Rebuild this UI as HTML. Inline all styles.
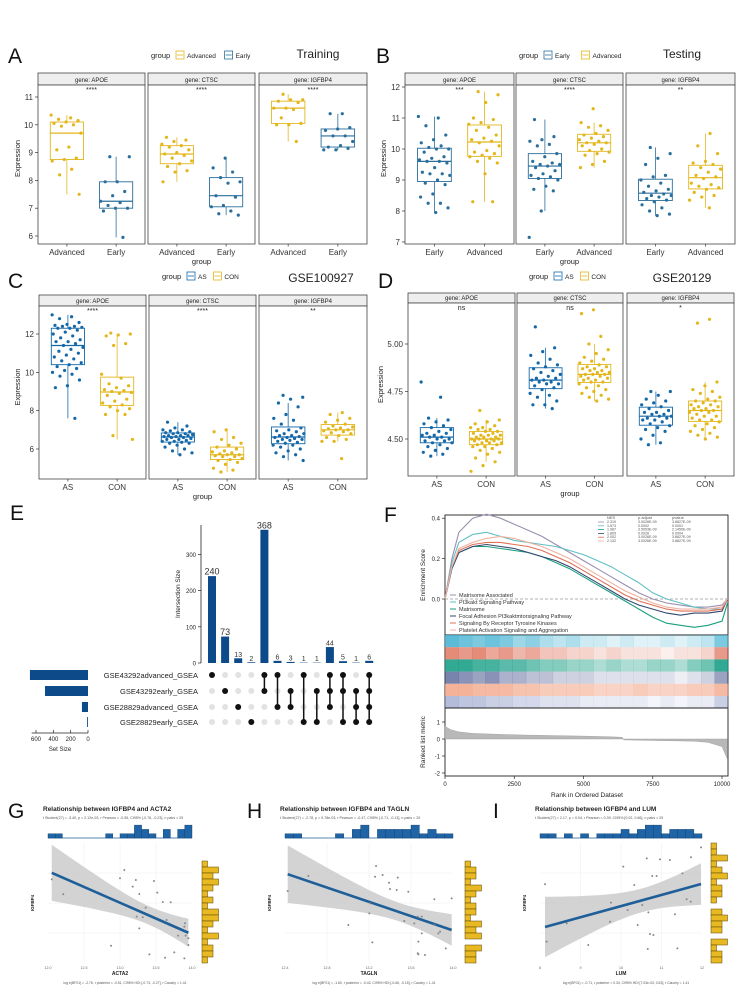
<!DOCTYPE html>
<html><head><meta charset="utf-8"><style>
html,body{margin:0;padding:0;background:#fff;}
svg{display:block;font-family:"Liberation Sans",sans-serif;}
</style></head><body>
<svg id="fig" xmlns="http://www.w3.org/2000/svg" width="744" height="990" viewBox="0 0 744 990"></svg>
<script>
// ---------- DATA ----------
const genes=['APOE','CTSC','IGFBP4'];
// Panel A (Training): [Advanced, Early]
const aAdvAPOE=[10.35,10.25,10.2,10.15,10.1,10.05,10.0,9.95,9.7,9.2,9.1,8.8,8.75,8.7,8.4,8.2,7.5];
const aEarAPOE=[8.85,8.85,7.95,7.95,7.6,7.45,7.25,7.2,7.1,7.0,7.0,6.9,5.95];
const aAdvCTSC=[9.55,9.45,9.4,9.3,9.25,9.2,9.1,9.0,8.95,8.9,8.8,8.7,8.6,8.5,8.35,8.3,7.95];
const aEarCTSC=[8.8,8.45,8.3,8.1,7.95,7.9,7.45,7.4,7.1,7.05,6.9,6.8,6.75];
const aAdvIGF=[11.1,10.9,10.9,10.85,10.8,10.6,10.6,10.55,10.25,10.05,10.0,10.0,9.4];
const aEarIGF=[10.4,10.4,9.9,9.85,9.8,9.6,9.6,9.4,9.25,9.2,9.15,9.1,9.1];
// Panel B (Testing): [Early, Advanced]
const bEarAPOE=[11.05,11.0,10.75,10.45,10.3,10.2,10.1,10.05,10.0,10.0,9.9,9.75,9.7,9.65,9.6,9.6,9.55,9.4,9.25,9.2,9.2,9.15,9.0,8.9,8.85,8.55,8.45,8.25,8.25,8.1,7.95];
const bAdvAPOE=[11.85,11.75,11.5,11.0,10.95,10.85,10.8,10.7,10.6,10.45,10.35,10.3,10.25,10.2,10.1,9.95,9.9,9.85,9.8,9.75,9.7,9.6,9.55,9.2,8.3,8.3];
const bEarCTSC=[10.95,10.4,10.3,10.25,10.15,10.1,9.85,9.75,9.6,9.55,9.5,9.5,9.45,9.4,9.3,9.2,9.15,9.1,9.05,9.0,8.8,8.7,8.65,8.0,7.15];
const bAdvCTSC=[11.3,10.85,10.75,10.7,10.6,10.5,10.45,10.4,10.35,10.3,10.25,10.2,10.2,10.15,10.1,10.0,9.95,9.9,9.85,9.8,9.6,9.5,9.4];
const bEarIGF=[10.05,9.85,9.7,9.5,9.15,9.1,9.0,8.9,8.8,8.7,8.65,8.6,8.55,8.5,8.5,8.45,8.4,8.35,8.3,8.2,8.1,8.0,7.9,7.85];
const bAdvIGF=[10.5,10.1,9.85,9.6,9.55,9.5,9.4,9.35,9.25,9.15,9.1,9.05,8.9,8.85,8.8,8.75,8.7,8.6,8.5,8.45,8.35,8.1];
// Panel C (GSE100927): [AS, CON]
const cAsAPOE=[13.0,12.9,12.8,12.6,12.5,12.45,12.4,12.4,12.35,12.3,12.3,12.2,12.1,12.0,11.9,11.8,11.7,11.6,11.6,11.5,11.4,11.3,11.2,11.1,11.0,10.9,10.8,10.7,10.6,10.5,10.4,10.3,10.2,10.1,10.0,9.9,9.8,9.6,9.3,9.2,7.6];
const cConAPOE=[12.05,12.0,11.95,11.9,11.5,11.4,9.9,9.7,9.4,9.3,9.2,9.1,9.05,9.0,8.95,8.9,8.8,8.6,8.5,8.4,8.3,8.2,8.1,8.0,7.8,7.8,6.7,6.5];
const cAsCTSC=[7.4,7.2,7.1,7.0,7.0,6.95,6.9,6.85,6.85,6.8,6.8,6.75,6.7,6.7,6.7,6.65,6.65,6.6,6.6,6.55,6.5,6.5,6.45,6.4,6.4,6.35,6.3,6.3,6.2,6.1,6.0,5.9,5.8,5.7];
const cConCTSC=[7.0,6.9,6.6,6.5,6.3,6.2,6.1,6.0,5.9,5.85,5.8,5.75,5.7,5.7,5.65,5.6,5.6,5.5,5.45,5.4,5.3,5.2,5.0,4.9,4.8];
const cAsIGF=[8.8,8.7,8.6,8.4,8.2,7.8,7.6,7.5,7.3,7.1,7.0,6.95,6.9,6.8,6.8,6.7,6.7,6.65,6.6,6.6,6.55,6.5,6.5,6.45,6.4,6.35,6.3,6.2,6.2,6.1,6.0,5.9,5.8,5.7,5.6,5.4];
const cConIGF=[7.9,7.8,7.6,7.5,7.4,7.3,7.2,7.15,7.1,7.05,7.0,7.0,6.95,6.9,6.85,6.8,6.7,6.6,6.5,6.4,6.4,5.5];
// Panel D (GSE20129): [AS, CON]
const dAsAPOE=[4.80,4.72,4.61,4.60,4.59,4.58,4.57,4.56,4.55,4.54,4.53,4.53,4.52,4.52,4.51,4.51,4.50,4.50,4.49,4.49,4.48,4.48,4.47,4.46,4.45,4.44,4.43,4.42,4.41];
const dConAPOE=[4.65,4.60,4.59,4.58,4.57,4.56,4.56,4.55,4.55,4.54,4.54,4.53,4.53,4.52,4.52,4.52,4.51,4.51,4.51,4.50,4.50,4.50,4.50,4.49,4.49,4.49,4.48,4.48,4.48,4.47,4.47,4.46,4.46,4.45,4.44,4.43,4.42,4.40,4.38,4.36,4.33];
const dAsCTSC=[5.09,4.98,4.96,4.94,4.92,4.90,4.89,4.88,4.87,4.86,4.85,4.84,4.83,4.82,4.82,4.81,4.81,4.80,4.80,4.79,4.79,4.78,4.77,4.76,4.74,4.73,4.72,4.70,4.68,4.68,4.66];
const dConCTSC=[5.18,5.16,5.04,5.00,4.97,4.95,4.93,4.92,4.91,4.90,4.89,4.88,4.88,4.87,4.87,4.86,4.86,4.85,4.85,4.84,4.84,4.84,4.83,4.83,4.82,4.82,4.81,4.81,4.80,4.80,4.79,4.78,4.77,4.76,4.75,4.74,4.73,4.72,4.71,4.70];
const dAsIGF=[4.75,4.75,4.73,4.71,4.70,4.69,4.68,4.67,4.66,4.65,4.64,4.64,4.63,4.63,4.62,4.62,4.61,4.61,4.60,4.60,4.59,4.58,4.57,4.56,4.55,4.54,4.52,4.50,4.48,4.47];
const dConIGF=[5.13,5.11,4.80,4.78,4.76,4.75,4.74,4.72,4.71,4.70,4.70,4.69,4.68,4.68,4.67,4.67,4.66,4.66,4.65,4.65,4.64,4.64,4.63,4.62,4.62,4.61,4.60,4.60,4.59,4.58,4.57,4.56,4.55,4.54,4.53,4.52,4.51,4.50];
// Panel E (UpSet)
const setNames=['GSE43292advanced_GSEA','GSE43292early_GSEA','GSE28829advanced_GSEA','GSE28829early_GSEA'];
const setSizes=[670,496,70,10];
const interValues=[240,73,13,2,368,6,3,1,1,44,5,1,6];
const interSets=[[0],[1],[2],[3],[0,1],[0,2],[1,2],[0,3],[1,3],[0,1,2],[0,1,3],[1,2,3],[0,1,2,3]];
const interTicks=[0,100,200,300];
const setTicks=[600,400,200,0];
// Panel F (GSEA)
const gseaRanks=[0,250,500,1000,1500,2000,2500,3000,3500,4000,4500,5000,5500,6000,6500,7000,7500,8000,8500,9000,9500,10000,10200];
const es1=[0,0.2,0.33,0.40,0.42,0.40,0.37,0.34,0.31,0.27,0.23,0.19,0.15,0.11,0.07,0.03,0.0,-0.02,-0.03,-0.04,-0.04,-0.03,0.0];
const es2=[0,0.18,0.28,0.32,0.33,0.31,0.29,0.28,0.27,0.26,0.24,0.22,0.19,0.16,0.12,0.08,0.03,0.0,-0.02,-0.04,-0.05,-0.05,0.0];
const es3=[0,0.15,0.23,0.26,0.26,0.25,0.24,0.23,0.21,0.18,0.15,0.11,0.07,0.03,-0.01,-0.05,-0.09,-0.12,-0.13,-0.14,-0.13,-0.11,-0.02];
const es4=[0,0.15,0.23,0.26,0.27,0.26,0.25,0.23,0.21,0.19,0.16,0.12,0.08,0.04,0.00,-0.03,-0.05,-0.07,-0.08,-0.07,-0.07,-0.06,0.0];
const es5=[0,0.16,0.24,0.27,0.28,0.28,0.27,0.26,0.24,0.21,0.18,0.14,0.10,0.06,0.02,-0.01,-0.03,-0.05,-0.06,-0.06,-0.06,-0.05,0.0];
const es6=[0,0.16,0.25,0.28,0.30,0.31,0.30,0.28,0.26,0.23,0.20,0.16,0.12,0.08,0.04,0.01,-0.02,-0.04,-0.05,-0.05,-0.05,-0.04,0.0];
const pathways=['Matrisome Associated','PI3kakt Signaling Pathway','Matrisome','Focal Adhesion PI3kaktmtorsignaling Pathway','Signaling By Receptor Tyrosine Kinases','Platelet Activation Signaling and Aggregation'];
const nesVals=['2.319','1.573','1.987','1.809','2.002','2.132'];
const padjVals=['3.0026E-09','0.0002','3.5053E-09','0.0028','3.0026E-09','3.0026E-09'];
const pvalVals=['3.8827E-09','0.0001','2.1450E-09','0.0004','3.8827E-09','3.8827E-09'];
const hit1=[1,.9,.8,.9,.8,.6,.7,.5,.4,.5,.3,.3,.2,.3,.2,.2,.3,.2,.3,.4,.8];
const hit2=[.8,.7,.8,.6,.7,.5,.6,.4,.4,.3,.3,.2,.3,.2,.2,.2,.1,.2,.2,.3,.7];
const hit3=[1,1,.9,.9,.8,.8,.7,.6,.6,.5,.5,.4,.5,.4,.4,.5,.5,.4,.6,.7,1];
const hit4=[.8,.7,.6,.7,.5,.5,.4,.4,.3,.3,.3,.2,.2,.2,.2,.2,.2,.1,.2,.3,.6];
const hit5=[.9,.9,.8,.8,.8,.7,.7,.6,.6,.6,.6,.5,.5,.5,.6,.5,.5,.5,.6,.6,.8];
const hit6=[.7,.6,.6,.5,.5,.4,.4,.3,.3,.3,.2,.2,.2,.2,.2,.1,.2,.1,.2,.2,.5];
const metricRanks=[0,200,500,1000,2000,3000,4000,5000,6000,6400,6450,7000,8000,9000,9500,10000,10200];
const metricVals=[0.75,0.55,0.42,0.33,0.27,0.23,0.2,0.17,0.13,0.1,-0.05,-0.07,-0.1,-0.13,-0.2,-0.45,-1.2];
const rankTicks=[0,2500,5000,7500,10000];
// Panels G,H,I (scatter, 0-100 scaled units)
const gX=[2.6,10.6,53,50,61,58.8,63.4,73.6,75.9,67.8,79.7,85.2,61.6,65.8,82.4,63.4,95.1,94.7,90.3,95.6,97.5,43.8,70.4,81.3,87.7,94.7,97.5];
const gY=[69.7,57.3,77.5,70.6,69.2,63.6,57.5,68.3,58.6,46.1,50.8,50.6,38.6,38.1,35.8,28.9,33.1,30.3,22.8,22.8,15,14.4,7.2,4.4,8.9,3.9,20.6];
const hX=[1.6,13.9,54.2,53.6,58.1,61.9,62.5,66.5,67.1,73.4,50.6,50.2,37.7,71,77,79,81.4,88.9,91.3,92.3,81.4,79.4,79,79.4,83.3,52,88.9,99.2,95.7];
const hY=[60,72.5,80.8,71.9,73.3,66.9,61.7,60.8,71.1,59.4,49.7,41.4,31.7,35,33,38.6,38.6,31.7,24.7,26.1,24.7,17.8,8.1,7.2,6.7,17.2,53.1,53.9,12.2];
const iX=[3.1,4.1,16.5,29.8,43.2,43.8,51.4,54.1,58.2,60.3,63.1,65.9,66.9,67.9,69.3,70,72,74.1,80.2,83.3,84.8,87.9,90.5,93,93.2,99.4,66.5];
const iY=[65.6,17.8,33,15,34.4,50.3,80.3,44.2,65,31.7,48.3,87.2,42.2,24.2,72.5,23.3,72.5,86.4,85.8,40.6,12.2,74.7,53.1,51.1,88.1,96.4,11.7];
const gTopHist=[1,1,0,0,0,0,0,0,1,0,1,1,3,2,1,0,2,0,2,3];
const gRightHist=[0,0,0,1,3,2,3,2,1,2,1,3,3,2,1,3,1,2,2,1];
const hTopHist=[1,1,0,0,0,0,1,0,2,3,0,2,2,2,2,3,1,2,1,1];
const hRightHist=[0,0,0,1,2,2,1,3,2,1,2,2,1,3,2,3,0,3,2,2];
const iTopHist=[1,1,0,1,0,1,0,1,1,1,2,1,2,3,3,1,2,2,2,1];
const iRightHist=[1,1,3,1,2,3,1,2,2,1,0,2,3,2,2,0,3,1,2,2];

// ---------- HELPERS ----------
const NS='http://www.w3.org/2000/svg';
const svg=document.getElementById('fig');
function el(tag,attrs,parent){const e=document.createElementNS(NS,tag);for(const k in attrs)e.setAttribute(k,attrs[k]);(parent||svg).appendChild(e);return e;}
function nm(e,n){
  
  
  return e;}
function tx(x,y,s,size,opts,name){const o=Object.assign({x:x,y:y,'font-size':size,fill:'#222'},opts||{});const t=el('text',o);t.textContent=s;nm(t,name||'label');return t;}
function quant(a,p){const s=[...a].sort((x,y)=>x-y);const h=(s.length-1)*p;const lo=Math.floor(h);return s[lo]+(s[Math.min(lo+1,s.length-1)]-s[lo])*(h-lo);}
const BLUE='#1468a8',YEL='#e3b61c';

// ---------- FACET BOXPLOTS ----------
function facet(c){
  const ys=v=>c.yA+(v-c.vA)*(c.yB-c.yA)/(c.vB-c.vA);
  for(let f=0;f<3;f++){
    const x0=c.x0s[f],x1=c.x1s[f],pw=x1-x0;
    const strip=el('rect',{x:x0,y:c.top,width:pw,height:c.stripH,fill:'#eeeeee',stroke:'#444','stroke-width':0.8});
    nm(strip,'facet-strip-'+genes[f].toLowerCase());
    tx((x0+x1)/2,c.top+c.stripH-3,'gene: '+genes[f],6,{'text-anchor':'middle'},'facet-strip-label');
    const pan=el('rect',{x:x0,y:c.top+c.stripH,width:pw,height:c.bottom-c.top-c.stripH,fill:'#fff',stroke:'#444','stroke-width':0.8});
    nm(pan,'facet-panel-'+genes[f].toLowerCase());
    tx((x0+x1)/2,c.top+c.stripH+7,c.sig[f],7,{'text-anchor':'middle'},'significance-label');
    for(let g=0;g<2;g++){
      const vals=c.data[f][g],col=c.colors[g];
      const cx=x0+pw*(g==0?0.27:0.73),bw=pw*0.31;
      const q1=quant(vals,.25),md=quant(vals,.5),q3=quant(vals,.75),iqr=q3-q1;
      const inr=vals.filter(v=>v>=q1-1.5*iqr&&v<=q3+1.5*iqr);
      const lo=Math.min(...inr),hi=Math.max(...inr);
      const w=el('line',{x1:cx,x2:cx,y1:ys(hi),y2:ys(lo),stroke:col,'stroke-width':0.8});
      nm(w,'whisker');
      const b=el('rect',{x:cx-bw/2,y:ys(q3),width:bw,height:ys(q1)-ys(q3),fill:'#fff',stroke:col,'stroke-width':0.9});
      nm(b,'box-'+c.groups[g].toLowerCase()+'-'+genes[f].toLowerCase());
      const m=el('line',{x1:cx-bw/2,x2:cx+bw/2,y1:ys(md),y2:ys(md),stroke:col,'stroke-width':1.2});
      nm(m,'median-line');
      vals.forEach((v,i)=>{
        const jx=(((i*0.61803+g*0.3+f*0.17)%1)-0.5)*bw*0.95;
        const p=el('circle',{cx:cx+jx,cy:ys(v),r:1.6,fill:col});
        nm(p,'data-point');
      });
      const tk=el('line',{x1:cx,x2:cx,y1:c.bottom,y2:c.bottom+2.5,stroke:'#333','stroke-width':0.7});
      nm(tk,'x-tick');
      tx(cx,c.bottom+11,c.groups[g],8,{'text-anchor':'middle','fill':'#333'},'x-tick-label');
    }
  }
  c.ticks.forEach(t=>{
    const l=el('line',{x1:c.x0s[0]-3,x2:c.x0s[0],y1:ys(t),y2:ys(t),stroke:'#333','stroke-width':0.7});
    nm(l,'y-tick');
    tx(c.x0s[0]-5,ys(t)+3,c.fmt(t),8,{'text-anchor':'end','fill':'#333'},'y-tick-label');
  });
  tx(0,0,'Expression',7.5,{'text-anchor':'middle',transform:`translate(${c.ylabX},${(c.top+c.bottom)/2}) rotate(-90)`},'y-axis-title');
  tx((c.x0s[1]+c.x1s[1])/2,c.bottom+20,'group',7.5,{'text-anchor':'middle'},'x-axis-title');
  tx(c.legX,c.legY,'group',7.5,{},'legend-title');
  let lx=c.legX+25;
  for(let g=0;g<2;g++){
    const k=el('rect',{x:lx,y:c.legY-7,width:8,height:8,fill:'#fff',stroke:c.colors[g],'stroke-width':0.8});
    nm(k,'legend-key');
    const kl=el('line',{x1:lx+1,x2:lx+7,y1:c.legY-3,y2:c.legY-3,stroke:c.colors[g],'stroke-width':0.8});
    nm(kl,'legend-key-line');
    tx(lx+11,c.legY,c.groups[g],6.5,{},'legend-entry');
    lx+=11+c.groups[g].length*3.7+8;
  }
  tx(c.titleX,c.titleY,c.title,12,{'text-anchor':'middle'},'panel-title');
}

facet({x0s:[38,148,259],x1s:[145,255,367],top:73,stripH:12,bottom:244,yA:97,vA:11,yB:236,vB:6,ticks:[6,7,8,9,10,11],fmt:t=>String(t),
  groups:['Advanced','Early'],colors:[YEL,'#2a6f9c'],data:[[aAdvAPOE,aEarAPOE],[aAdvCTSC,aEarCTSC],[aAdvIGF,aEarIGF]],sig:['****','****','****'],
  ylabX:20,legX:151,legY:58,title:'Training',titleX:318,titleY:58});
facet({x0s:[405,516,626],x1s:[514,623,735],top:73,stripH:12,bottom:244,yA:87,vA:12,yB:242,vB:7,ticks:[7,8,9,10,11,12],fmt:t=>String(t),
  groups:['Early','Advanced'],colors:['#2a6f9c',YEL],data:[[bEarAPOE,bAdvAPOE],[bEarCTSC,bAdvCTSC],[bEarIGF,bAdvIGF]],sig:['***','****','**'],
  ylabX:386,legX:519,legY:58,title:'Testing',titleX:682,titleY:58});
facet({x0s:[39,149,259],x1s:[146,256,367],top:295,stripH:11,bottom:479,yA:334,vA:12,yB:449,vB:6,ticks:[6,8,10,12],fmt:t=>String(t),
  groups:['AS','CON'],colors:[BLUE,YEL],data:[[cAsAPOE,cConAPOE],[cAsCTSC,cConCTSC],[cAsIGF,cConIGF]],sig:['****','****','**'],
  ylabX:20,legX:162,legY:279,title:'GSE100927',titleX:321,titleY:282});
facet({x0s:[408,517,627],x1s:[515,623,734],top:293,stripH:10,bottom:476,yA:344,vA:5.0,yB:439,vB:4.5,ticks:[4.5,4.75,5.0],fmt:t=>t.toFixed(2),
  groups:['AS','CON'],colors:[BLUE,YEL],data:[[dAsAPOE,dConAPOE],[dAsCTSC,dConCTSC],[dAsIGF,dConIGF]],sig:['ns','ns','*'],
  ylabX:383,legX:529,legY:279,title:'GSE20129',titleX:682,titleY:282});

// ---------- PANEL LETTERS ----------
[['A',8,63],['B',376,63],['C',8,288],['D',378,288],['E',10,520],['F',384,522],['G',8,818],['H',247,818],['I',493,818]].forEach(p=>{
  tx(p[1],p[2],p[0],21,{fill:'#111'},'panel-letter-'+p[0].toLowerCase());
});

// ---------- PANEL E: UPSET ----------
(function(){
  const ax=201,base=663,bx=v=>212+v*13.1,by=v=>base-v*0.362;
  const ya=el('line',{x1:ax,x2:ax,y1:525,y2:base,stroke:'#222','stroke-width':0.8});
  nm(ya,'y-axis-line');
  interTicks.forEach(t=>{
    const l=el('line',{x1:ax-3,x2:ax,y1:by(t),y2:by(t),stroke:'#222','stroke-width':0.7});
    nm(l,'y-tick');
    tx(ax-5,by(t)+2.5,String(t),6,{'text-anchor':'end'},'y-tick-label');
  });
  tx(0,0,'Intersection Size',6.5,{'text-anchor':'middle',transform:'translate(180,594) rotate(-90)'},'y-axis-title');
  interValues.forEach((v,i)=>{
    const b=el('rect',{x:bx(i)-4,y:by(v),width:8,height:base-by(v),fill:'#0d4a8a'});
    nm(b,'intersection-bar');
    tx(bx(i),by(v)-1.5,String(v),v>50?9:7,{'text-anchor':'middle','fill':'#333'},'bar-value-label');
  });
  const rowY=[675,691,707,722];
  interSets.forEach((s,i)=>{
    for(let r=0;r<4;r++){
      const d=el('circle',{cx:bx(i),cy:rowY[r],r:3,fill:s.includes(r)?'#111':'#e2e2e2'});
      nm(d,'matrix-dot');
    }
    if(s.length>1){
      const ln=el('line',{x1:bx(i),x2:bx(i),y1:rowY[Math.min(...s)],y2:rowY[Math.max(...s)],stroke:'#111','stroke-width':1.5});
      nm(ln,'matrix-connector');
    }
  });
  const sx=v=>88-v*(52/600);
  setSizes.forEach((v,r)=>{
    const b=el('rect',{x:sx(v),y:rowY[r]-5,width:88-sx(v),height:10,fill:'#0d4a8a'});
    nm(b,'set-size-bar');
    tx(198,rowY[r]+3,setNames[r],7.5,{'text-anchor':'end','fill':'#222'},'set-name-label');
  });
  const sa=el('line',{x1:sx(650),x2:88,y1:733,y2:733,stroke:'#222','stroke-width':0.7});
  nm(sa,'set-size-axis');
  setTicks.forEach(t=>{
    const l=el('line',{x1:sx(t),x2:sx(t),y1:730,y2:733,stroke:'#222','stroke-width':0.7});
    nm(l,'set-size-tick');
    tx(sx(t),741,String(t),6,{'text-anchor':'middle'},'set-size-tick-label');
  });
  tx(60,751,'Set Size',6,{'text-anchor':'middle'},'set-size-title');
})();

// ---------- PANEL F: GSEA ----------
(function(){
  const X0=445,X1=728,rx=r=>X0+r*0.0277;
  const esY=v=>599-v*202, mY=v=>739-v*17;
  const fr=el('rect',{x:X0,y:515,width:X1-X0,height:261,fill:'#fff',stroke:'#222','stroke-width':0.9});
  nm(fr,'gsea-frame');
  const dz=el('line',{x1:X0,x2:X1,y1:esY(0),y2:esY(0),stroke:'#999','stroke-width':0.7,'stroke-dasharray':'3,2'});
  nm(dz,'zero-line');
  const cols=['#9b8fb0','#5fbfc4','#1a9e7e','#34466e','#e07058','#f0b0a0'];
  [es1,es2,es3,es4,es5,es6].forEach((s,k)=>{
    const d=s.map((v,i)=>(i?'L':'M')+rx(gseaRanks[i]).toFixed(1)+','+esY(v).toFixed(1)).join('');
    const p=el('path',{d:d,fill:'none',stroke:cols[k],'stroke-width':1.1});
    nm(p,'es-curve-'+(k+1));
  });
  [0,0.2,0.4].forEach(t=>{
    const l=el('line',{x1:X0-3,x2:X0,y1:esY(t),y2:esY(t),stroke:'#222','stroke-width':0.7});
    nm(l,'es-tick');
    tx(X0-5,esY(t)+2.5,t.toFixed(1),6,{'text-anchor':'end'},'es-tick-label');
  });
  tx(0,0,'Enrichment Score',6.5,{'text-anchor':'middle',transform:'translate(425,575) rotate(-90)'},'es-axis-title');
  pathways.forEach((p,i)=>{
    const y=597+i*7;
    const l=el('line',{x1:450,x2:456,y1:y-2,y2:y-2,stroke:cols[i],'stroke-width':1});
    nm(l,'gsea-legend-key');
    tx(459,y,p,5.5,{fill:'#333'},'gsea-legend-entry');
  });
  tx(607,519,'NES',4,{fill:'#555'},'table-header');
  tx(638,519,'p.adjust',4,{fill:'#555'},'table-header');
  tx(672,519,'pvalue',4,{fill:'#555'},'table-header');
  nesVals.forEach((v,i)=>{
    const y=523+i*3.8;
    const l=el('line',{x1:598,x2:604,y1:y-1,y2:y-1,stroke:cols[i],'stroke-width':0.8});
    nm(l,'table-key');
    tx(607,y,v,3.6,{fill:'#555'},'nes-value');
    tx(638,y,padjVals[i],3.6,{fill:'#555'},'padj-value');
    tx(672,y,pvalVals[i],3.6,{fill:'#555'},'pvalue-value');
  });
  const sep1=el('line',{x1:X0,x2:X1,y1:635,y2:635,stroke:'#222','stroke-width':0.9});
  nm(sep1,'separator');
  const hcols=['#3fb0d0','#d8553a','#0e9a80','#3a4a86','#f09a78','#7f8fc0'];
  [hit1,hit2,hit3,hit4,hit5,hit6].forEach((row,k)=>{
    const cw=(X1-X0)/row.length;
    row.forEach((v,i)=>{
      const c=el('rect',{x:X0+i*cw,y:635+k*12.2,width:cw+0.3,height:12.2,fill:hcols[k],'fill-opacity':v*0.85});
      nm(c,'hit-cell');
    });
  });
  const sep2=el('line',{x1:X0,x2:X1,y1:708,y2:708,stroke:'#222','stroke-width':0.9});
  nm(sep2,'separator');
  let d='M'+rx(0)+','+mY(0);
  metricRanks.forEach((r,i)=>{d+='L'+rx(r).toFixed(1)+','+mY(metricVals[i]).toFixed(1);});
  d+='L'+rx(10200)+','+mY(0)+'Z';
  const ar=el('path',{d:d,fill:'#b8b8b8',stroke:'#999','stroke-width':0.4});
  nm(ar,'ranked-metric-area');
  [1,0,-1,-2].forEach(t=>{
    const l=el('line',{x1:X0-3,x2:X0,y1:mY(t),y2:mY(t),stroke:'#222','stroke-width':0.7});
    nm(l,'metric-tick');
    tx(X0-5,mY(t)+2.5,String(t),6,{'text-anchor':'end'},'metric-tick-label');
  });
  tx(0,0,'Ranked list metric',6.5,{'text-anchor':'middle',transform:'translate(425,742) rotate(-90)'},'metric-axis-title');
  rankTicks.forEach(t=>{
    const l=el('line',{x1:rx(t),x2:rx(t),y1:776,y2:779,stroke:'#222','stroke-width':0.7});
    nm(l,'rank-tick');
    tx(rx(t),786,String(t),6,{'text-anchor':'middle'},'rank-tick-label');
  });
  tx(587,797,'Rank in Ordered Dataset',6.5,{'text-anchor':'middle'},'rank-axis-title');
})();

// ---------- SCATTER PANELS ----------
function scat(c){
  const sx=v=>c.x0+v/100*(c.x1-c.x0), sy=v=>963-v/100*120;
  tx(c.x0-5,811,c.title,6.5,{'font-weight':'bold'},'scatter-title');
  tx(c.x0-5,819,c.sub,3.6,{fill:'#555'},'scatter-subtitle');
  for(let k=1;k<4;k++){
    const gv=el('line',{x1:sx(k*25),x2:sx(k*25),y1:843,y2:963,stroke:'#eee','stroke-width':0.5});
    nm(gv,'grid-line');
    const gh=el('line',{x1:c.x0,x2:c.x1,y1:sy(k*25),y2:sy(k*25),stroke:'#eee','stroke-width':0.5});
    nm(gh,'grid-line');
  }
  const n=c.xs.length,mx=c.xs.reduce((a,b)=>a+b)/n,my=c.ys.reduce((a,b)=>a+b)/n;
  let sxx=0,sxy=0;c.xs.forEach((x,i)=>{sxx+=(x-mx)**2;sxy+=(x-mx)*(c.ys[i]-my);});
  const b=sxy/sxx,a=my-b*mx;let sse=0;c.xs.forEach((x,i)=>{sse+=(c.ys[i]-a-b*x)**2;});
  const s=Math.sqrt(sse/(n-2)),lo=Math.min(...c.xs),hi=Math.max(...c.xs);
  let up='',dn='';
  for(let k=0;k<=20;k++){const x=lo+(hi-lo)*k/20,yh=a+b*x,se=2.05*s*Math.sqrt(1/n+(x-mx)**2/sxx);
    up+=(k?'L':'M')+sx(x).toFixed(1)+','+sy(Math.min(yh+se,110)).toFixed(1);
    dn='L'+sx(x).toFixed(1)+','+sy(Math.max(yh-se,-10)).toFixed(1)+dn;}
  const band=el('path',{d:up+dn+'Z',fill:'#c8c8c8','fill-opacity':0.8});
  nm(band,'confidence-band');
  const rl=el('line',{x1:sx(lo),y1:sy(a+b*lo),x2:sx(hi),y2:sy(a+b*hi),stroke:'#1f5f99','stroke-width':2.6});
  nm(rl,'regression-line');
  c.xs.forEach((x,i)=>{
    const p=el('circle',{cx:sx(x),cy:sy(c.ys[i]),r:1,fill:'#888'});
    nm(p,'scatter-point');
  });
  const bw=(c.x1-c.x0)/c.top.length;
  const th=el('line',{x1:c.x0,x2:c.x1,y1:838,y2:838,stroke:'#1f5f99','stroke-width':0.7});
  nm(th,'top-hist-baseline');
  c.top.forEach((v,i)=>{if(!v)return;
    const r=el('rect',{x:c.x0+i*bw,y:838-v*4.3,width:bw,height:v*4.3,fill:'#1f64a6',stroke:'#123d66','stroke-width':0.4});
    nm(r,'top-hist-bar');});
  const bh=120/c.right.length;
  c.right.forEach((v,i)=>{if(!v)return;
    const r=el('rect',{x:c.rx,y:843+i*bh,width:v*5.5,height:bh,fill:'#e8b923',stroke:'#5a4500','stroke-width':0.5});
    nm(r,'right-hist-bar');});
  c.xt.forEach((t,k)=>tx(sx(k*25),969,t,3.6,{'text-anchor':'middle',fill:'#666'},'x-tick-label'));
  tx((c.x0+c.x1)/2,975,c.xl,5,{'text-anchor':'middle','font-weight':'bold'},'x-axis-title');
  tx(0,0,'IGFBP4',4.5,{'text-anchor':'middle','font-weight':'bold',transform:`translate(${c.x0-14},903) rotate(-90)`},'y-axis-title');
  tx((c.x0+c.x1)/2+5,984,c.foot,3.4,{'text-anchor':'middle',fill:'#555'},'bayes-caption');
}
scat({x0:48,x1:192,rx:202,xs:gX,ys:gY,top:gTopHist,right:gRightHist,title:'Relationship between IGFBP4 and ACTA2',
  sub:'t Student(27) = -3.40, p = 2.12e-03, r Pearson = -0.55, CI95% [-0.76, -0.23], n pairs = 29',xl:'ACTA2',xt:['12.0','12.5','13.0','13.5','14.0'],
  foot:'log e(BF01) = -2.76, r posterior = -0.51, CI95% HDI [-0.73, -0.27], r Cauchy = 1.41'});
scat({x0:285,x1:453,rx:465,xs:hX,ys:hY,top:hTopHist,right:hRightHist,title:'Relationship between IGFBP4 and TAGLN',
  sub:'t Student(27) = -2.78, p = 9.78e-03, r Pearson = -0.47, CI95% [-0.71, -0.13], n pairs = 29',xl:'TAGLN',xt:['12.4','12.8','13.2','13.6','14.0'],
  foot:'log e(BF01) = -1.60, r posterior = -0.43, CI95% HDI [-0.66, -0.15], r Cauchy = 1.41'});
scat({x0:540,x1:702,rx:711,xs:iX,ys:iY,top:iTopHist,right:iRightHist,title:'Relationship between IGFBP4 and LUM',
  sub:'t Student(27) = 2.17, p = 0.04, r Pearson = 0.39, CI95% [0.02, 0.66], n pairs = 29',xl:'LUM',xt:['8','9','10','11','12'],
  foot:'log e(BF01) = -0.71, r posterior = 0.34, CI95% HDI [7.03e-03, 0.63], r Cauchy = 1.41'});
</script>
</body></html>
